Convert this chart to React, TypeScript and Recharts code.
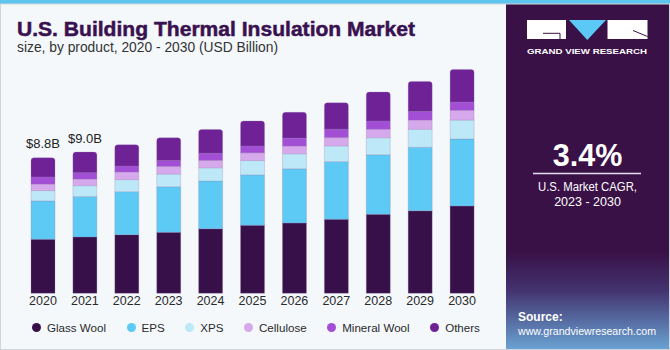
import { BarChart, Bar, XAxis, YAxis, Legend, LabelList } from "recharts";

// values in USD billion
const years = ["2020", "2021", "2022", "2023", "2024", "2025", "2026", "2027", "2028", "2029", "2030"];
const glassWool = [3.51, 3.66, 3.81, 3.96, 4.19, 4.42, 4.56, 4.81, 5.13, 5.36, 5.67];
const eps = [2.49, 2.62, 2.79, 2.96, 3.1, 3.27, 3.53, 3.74, 3.87, 4.12, 4.35];
const xps = [0.67, 0.71, 0.78, 0.82, 0.86, 0.93, 0.97, 1.02, 1.1, 1.17, 1.23];
const cellulose = [0.42, 0.43, 0.5, 0.5, 0.48, 0.5, 0.5, 0.54, 0.55, 0.6, 0.63];
const mineralWool = [0.47, 0.41, 0.39, 0.39, 0.47, 0.45, 0.52, 0.55, 0.54, 0.56, 0.54];
const others = [1.24, 1.34, 1.38, 1.47, 1.54, 1.62, 1.67, 1.71, 1.88, 1.95, 2.12];
const totalLabels = ["$8.8B", "$9.0B", "", "", "", "", "", "", "", "", ""];

const series = [
  { key: "glassWool", name: "Glass Wool", color: "#37104a" },
  { key: "eps", name: "EPS", color: "#5ccaf5" },
  { key: "xps", name: "XPS", color: "#bde8f8" },
  { key: "cellulose", name: "Cellulose", color: "#d6a8ec" },
  { key: "mineralWool", name: "Mineral Wool", color: "#a24fd6" },
  { key: "others", name: "Others", color: "#6e2296" },
];

const data = years.map((year, i) => ({
  year,
  glassWool: glassWool[i],
  eps: eps[i],
  xps: xps[i],
  cellulose: cellulose[i],
  mineralWool: mineralWool[i],
  others: others[i],
  label: totalLabels[i],
}));

const FONT = "'Liberation Sans', Arial, sans-serif";

const TopLabel = (props: any) => {
  const { x, y, width, value } = props;
  if (!value) return null;
  return (
    <text x={x + width / 2} y={y - 9.5} textAnchor="middle" fontSize={13} fill="#222" fontFamily={FONT}>
      {value}
    </text>
  );
};

// legend keeps the series order (recharts sorts the payload by name otherwise)
const LegendContent = () => (
  <div style={{ display: "flex", alignItems: "center", fontFamily: FONT, fontSize: 11.6, color: "#2a2a2a", whiteSpace: "nowrap" }}>
    {series.map((s) => (
      <div key={s.key} style={{ display: "flex", alignItems: "center", marginRight: 20.5, flexShrink: 0 }}>
        <span style={{ width: 9, height: 9, borderRadius: "50%", background: s.color, marginRight: 6, flexShrink: 0 }} />
        <span>{s.name}</span>
      </div>
    ))}
  </div>
);

const Panel = () => (
  <svg width={670} height={350} style={{ position: "absolute", left: 0, top: 0 }}>
    <defs>
      <linearGradient id="panelGrad" x1="0" y1="0" x2="0" y2="1">
        <stop offset="0" stopColor="#391147" />
        <stop offset="0.72" stopColor="#391147" />
        <stop offset="0.83" stopColor="#43336f" />
        <stop offset="1" stopColor="#6aa4d4" />
      </linearGradient>
    </defs>
    <rect x={0} y={0} width={670} height={350} fill="#f4f8fb" />
    <rect x={506} y={0} width={164} height={350} fill="url(#panelGrad)" />
    <rect x={0} y={0} width={670} height={4} fill="#5ec6ee" />
    <rect x={0.5} y={4} width={669} height={345.5} fill="none" stroke="#cfd5da" />

    <text x={17} y={36} fontSize={20.5} fontWeight="bold" fill="#3a1150" fontFamily={FONT}
      textLength={398} lengthAdjust="spacingAndGlyphs" stroke="#3a1150" strokeWidth={0.5}>
      U.S. Building Thermal Insulation Market
    </text>
    <text x={17} y={52} fontSize={13.8} fill="#333" fontFamily={FONT} textLength={261} lengthAdjust="spacingAndGlyphs">
      size, by product, 2020 - 2030 (USD Billion)
    </text>

    {/* logo */}
    <rect x={527} y={20} width={39} height={19} fill="#fff" />
    <polyline points="543,33.3 560,33.3 560,39" fill="none" stroke="#391147" strokeWidth={1} />
    <polygon points="569,20 606,20 587.3,40" fill="#5bc8f5" />
    <rect x={607.5} y={20} width={40} height={19} fill="#fff" />
    <line x1={633} y1={30.5} x2={647.5} y2={36.5} stroke="#391147" strokeWidth={1} />
    <text x={527} y={54} fontSize={8} fontWeight="bold" fill="#fff" fontFamily={FONT} textLength={120} lengthAdjust="spacingAndGlyphs">
      GRAND VIEW RESEARCH
    </text>

    <text x={587.5} y={166} fontSize={30.5} fontWeight="bold" fill="#fff" fontFamily={FONT} textAnchor="middle">
      3.4%
    </text>
    <line x1={533} y1={173.5} x2={641} y2={173.5} stroke="#e8e0ee" strokeWidth={1.5} />
    <text x={587.5} y={191} fontSize={12.5} fill="#fff" fontFamily={FONT} textAnchor="middle" textLength={99} lengthAdjust="spacingAndGlyphs">
      U.S. Market CAGR,
    </text>
    <text x={587.5} y={205.5} fontSize={12.5} fill="#fff" fontFamily={FONT} textAnchor="middle">
      2023 - 2030
    </text>

    <text x={518} y={321} fontSize={12} fontWeight="bold" fill="#fff" fontFamily={FONT}>
      Source:
    </text>
    <text x={518} y={335} fontSize={10.5} fill="#fff" fontFamily={FONT} textLength={138} lengthAdjust="spacingAndGlyphs">
      www.grandviewresearch.com
    </text>
  </svg>
);

export default function App() {
  return (
    <div style={{ position: "absolute", left: 0, top: 0, width: 670, height: 350, overflow: "hidden" }}>
      <Panel />
      <div style={{ position: "absolute", left: 0, top: 0 }}>
        <BarChart
          width={670}
          height={350}
          data={data}
          margin={{ top: 62.3, right: 187, bottom: 26.7, left: 22 }}
        >
          <XAxis
            dataKey="year"
            axisLine={false}
            tickLine={false}
            tickSize={0}
            tickMargin={3}
            height={30}
            interval={0}
            tick={{ fill: "#2a2a2a", fontSize: 12.5, fontFamily: FONT }}
          />
          <YAxis hide domain={[0, 15]} />
          <Legend
            layout="horizontal"
            verticalAlign="middle"
            align="center"
            content={<LegendContent />}
            wrapperStyle={{ left: 32, top: 321, width: 480 }}
          />
          {series.map((s, i) => (
            <Bar
              key={s.key}
              dataKey={s.key}
              name={s.name}
              stackId="a"
              fill={s.color}
              barSize={24}
              stroke="rgba(150,120,170,0.45)"
              strokeWidth={0.6}
              radius={i === series.length - 1 ? [3, 3, 0, 0] : 0}
              isAnimationActive={false}
            >
              {i === series.length - 1 && <LabelList dataKey="label" content={<TopLabel />} />}
            </Bar>
          ))}
        </BarChart>
      </div>
    </div>
  );
}
